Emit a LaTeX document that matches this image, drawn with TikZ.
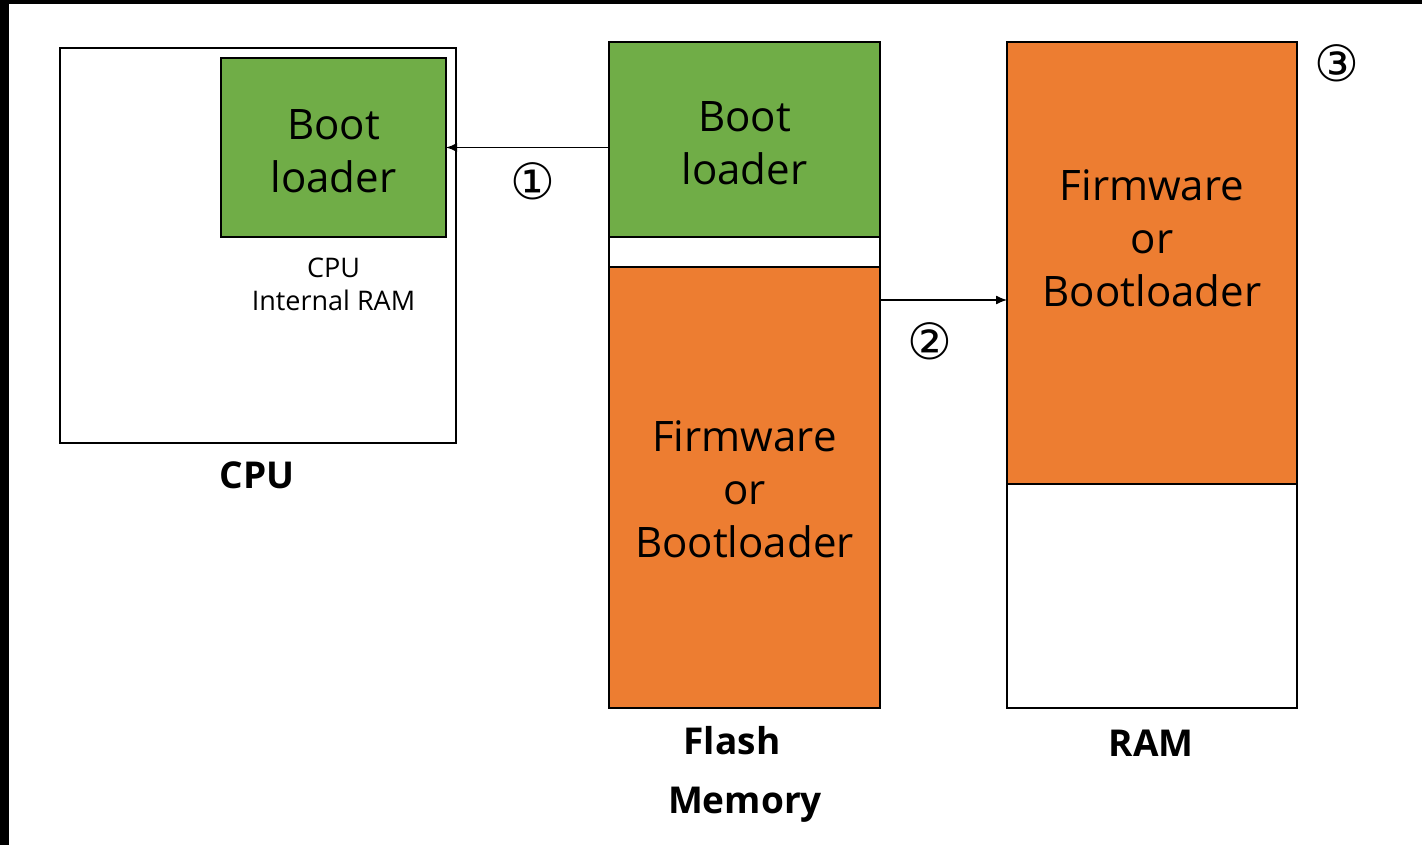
\documentclass[tikz,border=0pt]{standalone}
\usepackage{fontspec}
\setmainfont{Open Sans}
\newfontfamily\symfont{DejaVu Sans}
\usetikzlibrary{arrows.meta}
\definecolor{bgreen}{HTML}{70AD47}
\definecolor{borange}{HTML}{ED7D31}
\tikzset{
  blk/.style={draw=black, line width=2.8pt, minimum width=#1, inner sep=0pt, outer sep=0pt},
  bigtxt/.style={font=\fontsize{42}{53}\selectfont, align=center, inner sep=0pt},
  smalltxt/.style={font=\fontsize{27}{33}\selectfont, align=center, inner sep=0pt},
  lbl/.style={font=\fontsize{37}{59}\selectfont\bfseries, inner sep=0pt},
  circ/.style={font=\fontsize{50}{50}\symfont, inner sep=0pt},
  arr/.style={line width=1.3pt, -{Latex[length=11pt,width=9pt]}}
}
\begin{document}
\begin{tikzpicture}[x=1pt,y=-1pt]
\useasboundingbox (0,0) rectangle (1422,845);
\fill[white] (0,0) rectangle (1422,845);
\fill[black] (0,0) rectangle (9,845);
\fill[black] (0,0) rectangle (1422,4);
% CPU
\node[blk=396pt, minimum height=395pt] (cpu) at (258,245.5) {};
\node[blk=225pt, minimum height=179pt, fill=bgreen] (cpuboot) at (333.5,147.5) {};
\node[bigtxt] (cpubootT) at (333.5,151) {Boot\\loader};
\node[smalltxt] (cpuint) at (333.5,284) {CPU\\Internal RAM};
\node[lbl] (cpuL) at (257,475) {CPU};
% Flash
\node[blk=271pt, minimum height=195pt, fill=bgreen] (flashboot) at (744.5,139.5) {};
\node[blk=271pt, minimum height=30pt, fill=white] (flashgap) at (744.5,252) {};
\node[blk=271pt, minimum height=441pt, fill=borange] (flashfw) at (744.5,487.5) {};
\node[bigtxt] (flashbootT) at (744.5,143) {Boot\\loader};
\node[bigtxt] (flashfwT) at (744.5,489) {Firmware\\or\\Bootloader};
\node[lbl, align=center] (flashL) at (745,774) {\hspace*{-26pt}Flash\\Memory};
% RAM
\node[blk=290pt, minimum height=442pt, fill=borange] (ramfw) at (1152,263) {};
\node[blk=290pt, minimum height=224pt, fill=white] (ramfree) at (1152,596) {};
\node[bigtxt] (ramfwT) at (1152,238) {Firmware\\or\\Bootloader};
\node[lbl] (ramL) at (1151,743) {RAM};
% arrows
\coordinate (c2) at (0,300);
\draw[arr] (flashboot.west |- cpuboot.east) -- (cpuboot.east);
\draw[arr] (flashfw.east |- c2) -- (ramfw.west |- c2);
\node[circ] (n1) at (533,181) {①};
\node[circ] (n2) at (930,341) {②};
\node[circ] (n3) at (1337,63) {③};
\end{tikzpicture}
\end{document}
